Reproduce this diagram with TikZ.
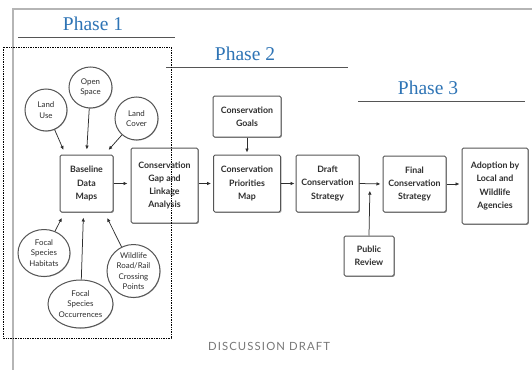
\documentclass[tikz,border=0pt]{standalone}
\usepackage{fontspec}
\setmainfont{Lato}
\newfontfamily\phasefont{Liberation Serif}
\newfontfamily\draftfont[LetterSpace=10]{Lato}
\usetikzlibrary{shadows,arrows.meta,calc,shapes.geometric}
\definecolor{phaseblue}{HTML}{2E74B5}
\definecolor{boxline}{HTML}{555555}
\definecolor{txt}{HTML}{2E2E2E}
\definecolor{framegray}{HTML}{B5B5B5}
\definecolor{draftgray}{HTML}{777777}
\begin{document}
\begin{tikzpicture}[x=1pt,y=-1pt,
  box/.style={draw=boxline, line width=1pt, rounded corners=1.5pt, fill=white, align=center,
    font=\fontsize{8.8}{13.2}\selectfont\bfseries, text=txt, inner sep=1pt,
    drop shadow={shadow xshift=0.9pt, shadow yshift=-0.9pt, opacity=0.35, fill=black}},
  bubble/.style={ellipse, draw=boxline, line width=1pt, fill=white, align=center,
    font=\fontsize{7.9}{10.5}\selectfont, text=txt, inner sep=0pt,
    drop shadow={shadow xshift=0.6pt, shadow yshift=-0.6pt, opacity=0.3, fill=black}},
  arr/.style={-{Latex[length=4pt,width=3.6pt]}, line width=0.75pt, draw=txt},
  phase/.style={font=\phasefont\fontsize{19.5}{21}\selectfont, text=phaseblue, inner sep=0pt},
  pline/.style={draw=boxline, line width=0.8pt}]
\useasboundingbox (0,0) rectangle (532,369);
% frame
\draw[framegray, line width=1.6pt] (13,372) -- (13,9) -- (535,9);
% phases
\node[phase] (ph1) at (93,24) {Phase 1};
\draw[pline] (18,37) -- (175,37);
\node[phase] (ph2) at (245,54) {Phase 2};
\draw[pline] (166,67) -- (348,67);
\node[phase] (ph3) at (428,88) {Phase 3};
\draw[pline] (358,101) -- (525,101);
% boxes
\node[box, minimum width=53pt, minimum height=57pt] (base) at (86.5,183.5) {Baseline\\Data\\Maps};
\node[box, minimum width=67pt, minimum height=75pt] (gap) at (164.5,185.5) {Conservation\\Gap and\\Linkage\\Analysis};
\node[box, minimum width=68pt, minimum height=41pt] (goals) at (247,116.5) {Conservation\\Goals};
\node[box, minimum width=67pt, minimum height=57pt] (pri) at (247,183.5) {Conservation\\Priorities\\Map};
\node[box, minimum width=63pt, minimum height=57pt] (draft) at (327.5,183.5) {Draft\\Conservation\\Strategy};
\node[box, minimum width=63pt, minimum height=56pt] (final) at (414.5,184) {Final\\Conservation\\Strategy};
\node[box, minimum width=66pt, minimum height=76pt] (adopt) at (495,186) {Adoption by\\Local and\\Wildlife\\Agencies};
\node[box, minimum width=50pt, minimum height=40pt] (pub) at (369,256) {Public\\Review};
% bubbles
\node[bubble, minimum width=42pt, minimum height=42pt] (lu) at (46,110) {Land\\Use};
\node[bubble, minimum width=43pt, minimum height=41pt] (os) at (90.5,87.5) {Open\\Space};
\node[bubble, minimum width=43pt, minimum height=43pt] (lc) at (136.5,118.5) {Land\\Cover};
\node[bubble, minimum width=52pt, minimum height=47pt] (hab) at (44,253) {Focal\\Species\\Habitats};
\node[bubble, minimum width=65pt, minimum height=48pt] (occ) at (80.5,304) {Focal\\Species\\Occurrences};
\node[bubble, minimum width=53pt, minimum height=53pt] (wild) at (133.5,271) {Wildlife\\Road/Rail\\Crossing\\Points};
% dotted phase 1 area
\draw[densely dotted, line width=0.7pt] (3,47) rectangle (171,338);
% arrows into baseline
\draw[arr, shorten >=5pt] (lu) -- ([xshift=6pt]base.north west);
\draw[arr, shorten >=5pt] (os) -- (base.north);
\draw[arr, shorten >=6pt] (lc) -- ([xshift=-9pt]base.north east);
\draw[arr, shorten >=6pt] (hab) -- ([xshift=-22pt]base.south);
\draw[arr, shorten >=5pt] (occ) -- ([xshift=-3pt]base.south);
\draw[arr, shorten >=6pt] (wild) -- ([xshift=18pt]base.south);
% main flow
\draw[arr, shorten >=3pt] (base.east) -- (base.east -| gap.west);
\draw[arr, shorten >=2pt] (pri.west -| gap.east) -- (pri.west);
\draw[arr, shorten >=2pt] (goals.south) -- (pri.north);
\draw[arr, shorten >=1pt] (pri.east) -- (draft.west);
\draw[arr, shorten >=2pt] (draft.east) -- (final.west);
\coordinate (mid) at ($(draft.east)!0.45!(final.west)$);
\draw[arr] (pub.north) -- ([yshift=-7pt]mid);
\draw[arr, shorten >=2pt] (final.east) -- (final.east -| adopt.west);
% footer
\node[text=draftgray, font=\draftfont\fontsize{11.3}{13}\selectfont, inner sep=0pt] (dd) at (269,346) {DISCUSSION DRAFT};
\end{tikzpicture}
\end{document}
